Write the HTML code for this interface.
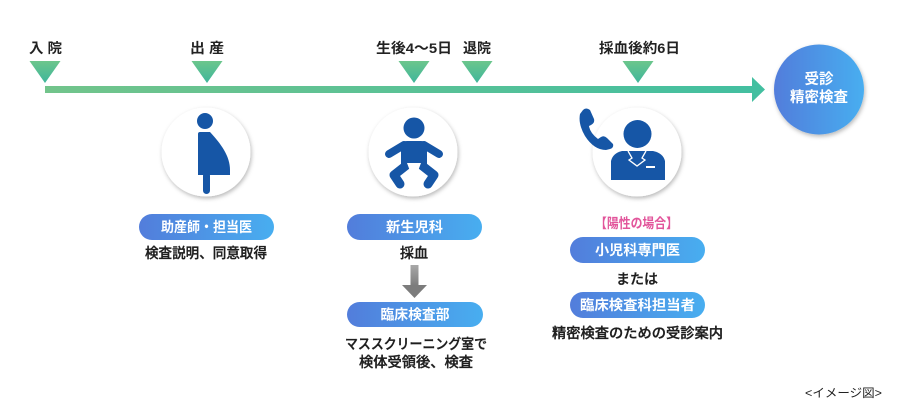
<!DOCTYPE html>
<html><head><meta charset="utf-8">
<style>
html,body{margin:0;padding:0;background:#fff;width:900px;height:414px;overflow:hidden}
svg{display:block}
text{font-family:"Liberation Sans","Noto Sans CJK JP",sans-serif}
.lb{font-size:14px;font-weight:700;fill:#222}
.bd{font-size:14px;font-weight:500;fill:#1e1e1e;stroke:#1e1e1e;stroke-width:0.35}
.pl{font-size:14px;font-weight:700;fill:#fff}
</style></head>
<body>
<svg width="900" height="414" viewBox="0 0 900 414" xmlns="http://www.w3.org/2000/svg">
<defs>
<linearGradient id="gl" x1="0" x2="1" y1="0" y2="0"><stop offset="0" stop-color="#72c48b"/><stop offset="1" stop-color="#43bfa0"/></linearGradient>
<linearGradient id="gt" x1="0" x2="0" y1="0" y2="1"><stop offset="0" stop-color="#6cc68c"/><stop offset="1" stop-color="#3eb69b"/></linearGradient>
<linearGradient id="gb" x1="0" x2="1" y1="0" y2="0"><stop offset="0" stop-color="#527ddb"/><stop offset="1" stop-color="#48aef0"/></linearGradient>
<linearGradient id="ga" x1="0" x2="0" y1="0" y2="1"><stop offset="0" stop-color="#a8a8a8"/><stop offset="1" stop-color="#7c7c7c"/></linearGradient>
<filter id="sh" x="-20%" y="-20%" width="140%" height="140%"><feDropShadow dx="1" dy="2" stdDeviation="2" flood-color="#000" flood-opacity="0.28"/></filter>
</defs>

<!-- timeline -->
<rect x="45" y="86" width="708" height="7" fill="url(#gl)"/>
<polygon points="752,77 765,89.5 752,102" fill="#43bfa0"/>

<g fill="url(#gt)">
<polygon points="29.5,61 60.5,61 45,83"/>
<polygon points="191.5,61 222.5,61 207,83"/>
<polygon points="398.5,61 429.5,61 414,83"/>
<polygon points="461.5,61 492.5,61 477,83"/>
<polygon points="622.5,61 653.5,61 638,83"/>
</g>

<text class="lb" x="29" y="53" textLength="33" lengthAdjust="spacingAndGlyphs">入 院</text>
<text class="lb" x="190" y="53" textLength="34" lengthAdjust="spacingAndGlyphs">出 産</text>
<text class="lb" x="376" y="53" textLength="76" lengthAdjust="spacingAndGlyphs">生後4〜5日</text>
<text class="lb" x="463" y="53" textLength="28" lengthAdjust="spacingAndGlyphs">退院</text>
<text class="lb" x="599" y="53" textLength="81" lengthAdjust="spacingAndGlyphs">採血後約6日</text>

<!-- final circle -->
<circle cx="819" cy="89.5" r="45" fill="url(#gb)" filter="url(#sh)"/>
<text class="pl" x="819" y="84" text-anchor="middle" style="font-size:14.5px">受診</text>
<text class="pl" x="819" y="102" text-anchor="middle" style="font-size:14.5px">精密検査</text>

<!-- icon circles -->
<circle cx="206" cy="152" r="44.5" fill="#fff" filter="url(#sh)"/>
<circle cx="413" cy="152" r="44.5" fill="#fff" filter="url(#sh)"/>
<circle cx="637" cy="152" r="44.5" fill="#fff" filter="url(#sh)"/>

<!-- pregnant -->
<g fill="#1656a6">
<circle cx="205" cy="121" r="8"/>
<path d="M198,134 Q198,132 200,132 L210,132 C221,144 230,156 230,170 L230,175 L198,175 Z"/>
<rect x="203" y="172" width="7" height="22" rx="3.5"/>
</g>

<!-- baby -->
<g fill="#1656a6">
<circle cx="414" cy="128" r="10.5"/>
<path d="M401,147 Q401,141 407,141 L421,141 Q427,141 427,147 L427,167 L401,167 Z"/>
</g>
<g stroke="#1656a6" stroke-linecap="round" stroke-linejoin="round" fill="none">
<path d="M404,145 L389,154" stroke-width="8"/>
<path d="M424,145 L439,154" stroke-width="8"/>
<path d="M408,164 L394,175 L400,184" stroke-width="9"/>
<path d="M420,164 L434,175 L428,184" stroke-width="9"/>
</g>
<path d="M407,163 L421,163 L418,171 L410,171 Z" fill="#fff"/>

<!-- operator -->
<g fill="#1656a6">
<circle cx="637.5" cy="134" r="14"/>
<path d="M622,151 L653,151 Q663,153 665,161 L665,180 L611,180 L611,161 Q613,153 622,151 Z"/>
<path d="M583,110 Q586,107 590,110 L594,119 Q595,123 591,125 L589,126 Q590,133 598,139 L601,137 Q604,135 607,138 L613,144 Q614,148 610,149 L606,150 Q594,150 585,136 Q578,124 580,114 Z"/>
</g>
<path d="M628,151 L632,158 L629,160 L637,166 L645,160 L642,158 L646,151" stroke="#fff" stroke-width="1.3" fill="none"/>
<rect x="646" y="166" width="9" height="2" fill="#fff"/>

<!-- pills -->
<rect x="139" y="214" width="135" height="26" rx="13" fill="url(#gb)"/>
<text class="pl" x="206.5" y="232" text-anchor="middle" textLength="91" lengthAdjust="spacingAndGlyphs">助産師・担当医</text>
<text class="bd" x="206" y="258" text-anchor="middle" textLength="122" lengthAdjust="spacingAndGlyphs">検査説明、同意取得</text>

<rect x="347" y="214" width="135" height="26" rx="13" fill="url(#gb)"/>
<text class="pl" x="414.5" y="232" text-anchor="middle" textLength="57" lengthAdjust="spacingAndGlyphs">新生児科</text>
<text class="bd" x="414" y="258" text-anchor="middle">採血</text>

<rect x="410.5" y="265" width="8" height="21" fill="url(#ga)"/>
<polygon points="402,285 427,285 414.5,298" fill="#7c7c7c"/>

<rect x="347" y="302" width="136" height="25" rx="12.5" fill="url(#gb)"/>
<text class="pl" x="415" y="319.5" text-anchor="middle" textLength="69" lengthAdjust="spacingAndGlyphs">臨床検査部</text>
<text class="bd" x="416" y="349" text-anchor="middle" textLength="142" lengthAdjust="spacingAndGlyphs">マススクリーニング室で</text>
<text class="bd" x="416" y="367" text-anchor="middle" textLength="114" lengthAdjust="spacingAndGlyphs">検体受領後、検査</text>

<text x="636.5" y="228" text-anchor="middle" style="font-size:13.5px;font-weight:700;fill:#e2559b" textLength="83" lengthAdjust="spacingAndGlyphs">【陽性の場合】</text>
<rect x="570" y="237" width="135" height="26" rx="13" fill="url(#gb)"/>
<text class="pl" x="637.5" y="255" text-anchor="middle" textLength="85" lengthAdjust="spacingAndGlyphs">小児科専門医</text>
<text class="bd" x="637" y="284" text-anchor="middle">または</text>
<rect x="570" y="292" width="135" height="26" rx="13" fill="url(#gb)"/>
<text class="pl" x="637.5" y="310" text-anchor="middle" textLength="115" lengthAdjust="spacingAndGlyphs">臨床検査科担当者</text>
<text class="bd" x="637.5" y="338" text-anchor="middle" textLength="171" lengthAdjust="spacingAndGlyphs">精密検査のための受診案内</text>

<text x="805" y="397" style="font-size:12px;fill:#222" textLength="77" lengthAdjust="spacingAndGlyphs">&lt;イメージ図&gt;</text>
</svg>
</body></html>
